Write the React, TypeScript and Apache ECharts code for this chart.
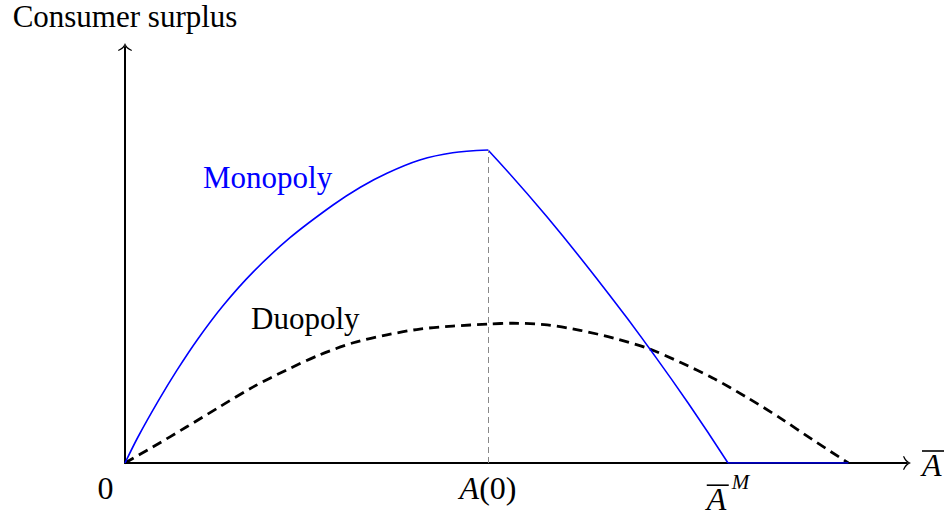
import React, { useEffect, useRef } from 'react';
import * as echarts from 'echarts';

// ---------- data (abstract units) ----------
const xRange = [0, 10];
const yRange = [0, 10];

// Monopoly: rising concave part up to A(0)
const monopolyRiseX = [0, 0.166, 0.422, 0.665, 0.934, 1.253, 1.637, 2.11, 2.66, 3.01, 3.35, 3.77, 4.19, 4.642];
const monopolyRiseY = [0, 0.625, 1.481, 2.231, 2.988, 3.781, 4.589, 5.416, 6.202, 6.63, 6.966, 7.284, 7.459, 7.524];
// Monopoly: decline from A(0) to A-bar^M
const monopolyFallX = [4.642, 5.393, 6.244, 6.714, 7.203, 7.711];
const monopolyFallY = [7.524, 5.923, 3.918, 2.733, 1.435, 0];
// Monopoly: zero beyond A-bar^M
const monopolyZeroX = [7.711, 9.25];
const monopolyZeroY = [0, 0];

// Duopoly (dashed)
const duopolyX = [0, 0.36, 0.79, 1.21, 1.64, 2.07, 2.49, 2.92, 3.35, 3.77, 4.19, 4.642, 4.96, 5.4, 5.82, 6.25, 6.71, 7.1, 7.52, 7.95, 8.38, 8.8, 9.25];
const duopolyY = [0, 0.39, 0.87, 1.35, 1.83, 2.24, 2.6, 2.89, 3.08, 3.22, 3.29, 3.34, 3.36, 3.32, 3.19, 3.0, 2.74, 2.42, 2.04, 1.58, 1.08, 0.55, 0];

// Tick positions on the horizontal axis: 0, A(0), A-bar^M
const tickValues = [0, 4.642, 7.711];
const tickKeys = ['zero', 'a0', 'am'];

const seriesNames = ['Monopoly', 'Duopoly'];
const yAxisTitle = 'Consumer surplus';

const FONT = '"Liberation Serif", "Times New Roman", serif';
const BLUE = '#0000ff';

const zip = (xs: number[], ys: number[]) => xs.map((x, i) => [x, ys[i]]);

const ARROW = 'path://M8,0 Q9.6,5 16,8 L15.5,9.2 Q9,6.6 8,2.6 Q7,6.6 0.5,9.2 L0,8 Q6.4,5 8,0 Z';

export default function App() {
  const ref = useRef<HTMLDivElement>(null);
  useEffect(() => {
    const chart = echarts.init(ref.current!, null, { renderer: 'svg' });
    const peakX = monopolyRiseX[monopolyRiseX.length - 1];
    const peakY = monopolyRiseY[monopolyRiseY.length - 1];
    const option: any = {
      animation: false,
      backgroundColor: '#ffffff',
      grid: { left: 125, right: 43, top: 47, bottom: 54, containLabel: false, outerBoundsMode: 'none' },
      xAxis: {
        type: 'value',
        min: xRange[0],
        max: xRange[1],
        name: '{bar|\u00a0}\n{ai|A}',
        nameLocation: 'end',
        nameGap: 15,
        nameTextStyle: {
          align: 'left',
          verticalAlign: 'middle',
          color: '#000',
          rich: {
            bar: { width: 22, height: 1.6, lineHeight: 3, fontSize: 2, backgroundColor: '#000', align: 'left' },
            ai: { fontFamily: FONT, fontSize: 32, fontStyle: 'italic', lineHeight: 24, color: '#000', align: 'left' },
          },
        },
        axisLine: {
          show: true,
          onZero: false,
          symbol: ['none', ARROW],
          symbolSize: [18, 8],
          lineStyle: { color: '#000', width: 2 },
        },
        axisTick: { show: false },
        splitLine: { show: false },
        axisLabel: {
          show: true,
          customValues: tickValues,
          margin: 9,
          color: '#000',
          fontFamily: FONT,
          fontSize: 32,
          formatter: (v: number) => {
            const idx = tickValues.findIndex((t) => Math.abs(t - v) < 1e-6);
            const key = tickKeys[idx];
            if (key === 'zero') return '{z|0}';
            if (key === 'a0') return '{i|A}{n|(0)}';
            if (key === 'am') return '{bar|\u00a0}{ms|M}\n{ai|A}';
            return '';
          },
          rich: {
            z: { fontFamily: FONT, fontSize: 32, lineHeight: 32, padding: [0, 39, 0, 0], color: '#000' },
            i: { fontFamily: FONT, fontSize: 32, fontStyle: 'italic', lineHeight: 32, color: '#000' },
            n: { fontFamily: FONT, fontSize: 32, lineHeight: 32, color: '#000' },
            bar: { width: 22, height: 1.6, lineHeight: 14, fontSize: 2, backgroundColor: '#000', verticalAlign: 'bottom', align: 'left' },
            ms: { fontFamily: FONT, fontSize: 21, fontStyle: 'italic', height: 8, lineHeight: 8, verticalAlign: 'bottom', align: 'left', padding: [0, 0, 0, 3], color: '#000' },
            ai: { fontFamily: FONT, fontSize: 32, fontStyle: 'italic', lineHeight: 26, align: 'left', color: '#000' },
          },
        },
      },
      yAxis: {
        type: 'value',
        min: yRange[0],
        max: yRange[1],
        name: yAxisTitle,
        nameLocation: 'end',
        nameGap: 31,
        nameTextStyle: { fontFamily: FONT, fontSize: 31, lineHeight: 30, color: '#000', align: 'center', verticalAlign: 'middle' },
        axisLine: {
          show: true,
          onZero: false,
          symbol: ['none', ARROW],
          symbolSize: [18, 8],
          lineStyle: { color: '#000', width: 2 },
        },
        axisTick: { show: false },
        axisLabel: { show: false },
        splitLine: { show: false },
      },
      graphic: [
        {
          type: 'text',
          x: 203,
          y: 177,
          style: { text: seriesNames[0], fill: BLUE, fontFamily: FONT, fontSize: 31, align: 'left', verticalAlign: 'middle' },
        },
        {
          type: 'text',
          x: 251,
          y: 318,
          style: { text: seriesNames[1], fill: '#000', fontFamily: FONT, fontSize: 31, align: 'left', verticalAlign: 'middle' },
        },
      ],
      series: [
        {
          name: seriesNames[1],
          type: 'line',
          data: zip(duopolyX, duopolyY),
          smooth: 0.3,
          showSymbol: false,
          lineStyle: { color: '#000', width: 2.8, type: [10, 6] },
          z: 3,
        },
        {
          name: seriesNames[0],
          type: 'line',
          data: zip(monopolyRiseX, monopolyRiseY),
          smooth: 0.3,
          showSymbol: false,
          lineStyle: { color: BLUE, width: 1.6 },
          z: 4,
          markLine: {
            silent: true,
            symbol: ['none', 'none'],
            label: { show: false },
            lineStyle: { color: '#888', width: 1, type: [6, 4] },
            data: [[{ coord: [peakX, 0] }, { coord: [peakX, peakY] }]],
          },
        },
        {
          name: seriesNames[0] + ' decline',
          type: 'line',
          data: zip(monopolyFallX, monopolyFallY),
          smooth: 0.5,
          showSymbol: false,
          lineStyle: { color: BLUE, width: 1.6 },
          z: 4,
        },
        {
          name: seriesNames[0] + ' zero',
          type: 'line',
          data: zip(monopolyZeroX, monopolyZeroY),
          showSymbol: false,
          lineStyle: { color: BLUE, width: 1.6 },
          z: 4,
        },
      ],
    };
    chart.setOption(option);
    return () => chart.dispose();
  }, []);
  return <div ref={ref} style={{ position: 'absolute', left: 0, top: 0, width: 950, height: 517 }} />;
}
